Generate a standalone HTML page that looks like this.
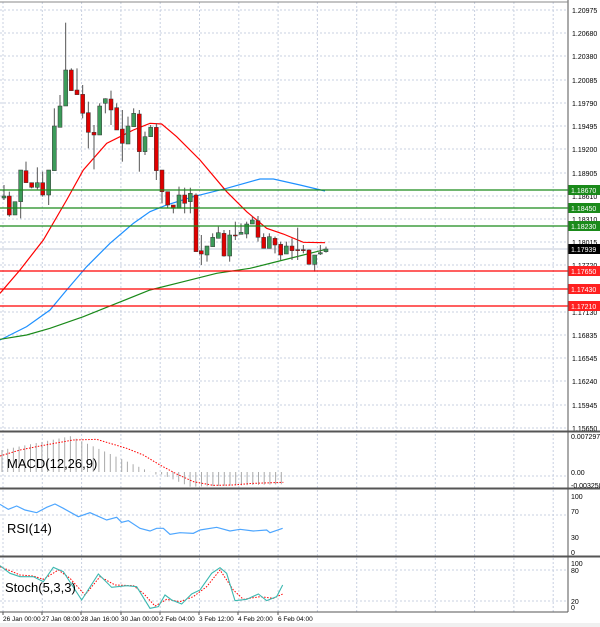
<!DOCTYPE html><html><head><style>body{margin:0;background:#fff}svg{display:block;font-family:"Liberation Sans",sans-serif}</style></head><body>
<svg id="s" width="600" height="627" xmlns="http://www.w3.org/2000/svg"></svg>
<script>
const s=document.getElementById('s');let h='';
h+='<rect width="600" height="627" fill="#fff"/>';
// vertical grid
for(let x=3;x<568;x+=39.3){h+=`<line x1="${x}" y1="2" x2="${x}" y2="612" stroke="#c8d0e0" stroke-dasharray="2,2"/>`}
// horizontal grid main
const pl=[[10,'1.20975'],[33,'1.20680'],[56,'1.20380'],[80,'1.20085'],[103,'1.19790'],[126,'1.19495'],[149,'1.19200'],[173,'1.18905'],[196,'1.18610'],[219,'1.18310'],[242,'1.18015'],[265,'1.17720'],[312,'1.17130'],[335,'1.16835'],[358,'1.16545'],[381,'1.16240'],[405,'1.15945'],[428,'1.15650']];
pl.forEach(([y,t])=>{h+=`<line x1="0" y1="${y}" x2="568" y2="${y}" stroke="#c8d0e0" stroke-dasharray="2,2"/><text x="572" y="${y+3}" font-size="7">${t}</text>`});
[476,515,570,601].forEach(y=>h+=`<line x1="0" y1="${y}" x2="568" y2="${y}" stroke="#c8d0e0" stroke-dasharray="2,2"/>`);
h+='<line x1="0" y1="249" x2="568" y2="249" stroke="#c0c8d8"/>';
// MAs (3x coords)
const P=a=>a.map(p=>(p[0]/3)+','+(p[1]/3)).join(' ');
h+=`<polyline fill="none" stroke="#1e90ff" stroke-width="1.2" points="${P([[0,1020],[80,980],[150,930],[200,870],[260,800],[330,730],[400,670],[450,635],[500,615],[580,590],[680,565],[780,537],[820,537],[900,555],[975,573]])}"/>`;
h+=`<polyline fill="none" stroke="#1a8a1a" stroke-width="1.2" points="${P([[0,1018],[80,1005],[150,985],[250,950],[350,910],[450,870],[550,845],[650,820],[750,805],[850,780],[930,760],[978,748]])}"/>`;
h+=`<polyline fill="none" stroke="#f00" stroke-width="1.2" points="${P([[0,880],[60,810],[130,720],[200,600],[250,510],[320,430],[400,390],[450,370],[485,372],[530,410],[600,480],[680,575],[740,635],[800,685],[850,702],[910,727],[975,728]])}"/>`;
// candles x,o,c,hi,lo (3x)
const C=[[12,594,588,555,600],[28,588,645,575,650],[45,645,605,605,645],[62,605,510,510,655],[78,512,548,485,548],[95,548,562,548,565],[112,562,548,502,568],[128,548,585,515,590],[146,585,510,510,615],[163,512,378,325,512],[180,382,318,285,382],[197,318,210,68,318],[214,210,272,205,272],[231,270,284,205,284],[248,283,340,255,355],[265,338,397,305,445],[282,397,405,375,508],[299,405,318,310,405],[316,310,296,295,340],[333,297,330,272,375],[350,323,390,310,390],[367,387,430,330,485],[384,432,378,350,432],[401,380,340,325,380],[418,342,455,330,515],[435,455,410,395,465],[452,410,382,375,410],[469,382,512,370,540],[486,510,575,510,610],[503,575,615,575,625],[520,615,625,615,640],[537,625,585,560,625],[554,585,610,563,640],[571,605,580,563,640],[588,585,755,580,755],[604,752,762,705,795],[621,765,738,738,785],[638,740,712,700,740],[655,715,698,680,715],[672,700,768,690,770],[689,768,705,690,785],[706,705,707,665,720],[723,703,697,670,703],[740,702,672,665,715],[757,672,660,650,672],[774,662,712,648,725],[791,712,745,700,745],[808,745,710,700,745],[825,715,735,710,760],[842,733,765,725,780],[859,762,738,725,762],[876,738,752,715,780],[893,749,752,683,780],[910,749,752,735,760],[927,750,793,748,793],[944,793,765,765,815],[961,762,758,735,765],[978,755,747,740,758]];
C.forEach(([x,o,c,hi,lo])=>{x/=3;o/=3;c/=3;hi/=3;lo/=3;const t=Math.min(o,c),b=Math.max(o,c);
h+=`<line x1="${x}" y1="${hi}" x2="${x}" y2="${lo}" stroke="#555"/>`;
h+=`<rect x="${x-2}" y="${t}" width="4" height="${Math.max(b-t,1)}" fill="${c<o?'#3c9b5a':'#e00000'}" stroke="#333" stroke-width="0.5"/>`});
// level lines
[[190,'#1a8a1a','1.18670'],[208,'#1a8a1a','1.18450'],[226,'#1a8a1a','1.18230'],[249,'#000','1.17939'],[271,'#f00','1.17650'],[289,'#f00','1.17430'],[306,'#f00','1.17210']].forEach(([y,c,t])=>{
if(c!='#000')h+=`<line x1="0" y1="${y}" x2="568" y2="${y}" stroke="${c}" stroke-width="1.3"/>`;
h+=`<rect x="568" y="${y-5}" width="32" height="10" fill="${c=='#f00'?'#ff2020':c}"/><text x="571" y="${y+3}" font-size="7" fill="#fff">${t}</text>`});
// panel borders
h+='<line x1="568" y1="0" x2="568" y2="612" stroke="#555"/><line x1="0" y1="2" x2="568" y2="2" stroke="#888"/>';
[431,432,488,489,556,557].forEach(y=>h+=`<line x1="0" y1="${y}" x2="600" y2="${y}" stroke="#555"/>`);
h+='<line x1="0" y1="612" x2="568" y2="612" stroke="#555"/>';
// MACD
const z=472;let hist=[],sig=[];
for(let i=0;i<50;i++){const x=2+i*5.7;let v;
if(i<13)v=0.0045+0.0028*i/12;else if(i<28)v=0.0073*(1-(i-13)/14)-0.0005;else if(i<33)v=-0.0005-0.0025*(i-28)/5;else v=-0.003+0.0005*(i-33)/16;
hist.push(x);const y=z-v*4900;h+=`<line x1="${x}" y1="${z}" x2="${x}" y2="${y}" stroke="#aaa"/>`}
h+=`<polyline fill="none" stroke="#f00" stroke-dasharray="1.5,1.5" points="${P([[0,108],[60,90],[120,78],[180,67],[220,60],[290,58],[330,70],[380,85],[430,105],[480,135],[530,162],[580,185],[640,196],[700,195],[760,190],[850,187]].map(p=>[p[0],p[1]+1260]))}"/>`;
h+='<text x="7" y="468" font-size="13">MACD(12,26,9)</text>';
[[436,'0.007297'],[472,'0.00'],[485,'-0.003258']].forEach(([y,t])=>h+=`<text x="571" y="${y+3}" font-size="7">${t}</text>`);
// RSI
h+=`<polyline fill="none" stroke="#4da6ff" stroke-width="1.2" points="${P([[0,253],[25,268],[50,258],[75,270],[110,278],[140,262],[165,252],[190,265],[235,290],[270,278],[320,300],[350,292],[365,307],[385,302],[420,325],[450,333],[470,325],[490,325],[510,343],[540,338],[580,340],[600,330],[650,322],[690,333],[720,328],[760,333],[800,330],[810,338],[848,325]].map(p=>[p[0],p[1]+1260]))}"/>`;
h+='<text x="7" y="533" font-size="13">RSI(14)</text>';
[[496,'100'],[476,''],[511,'70'],[537,'30'],[552,'0']].forEach(([y,t])=>h+=`<text x="571" y="${y+3}" font-size="7">${t}</text>`);
// Stoch
h+=`<polyline fill="none" stroke="#f00" stroke-dasharray="1.5,1.5" points="${P([[0,440],[30,452],[60,465],[100,468],[130,478],[175,450],[210,475],[255,525],[300,470],[345,495],[400,497],[430,520],[465,558],[500,538],[540,545],[580,530],[620,500],[660,450],[700,510],[730,538],[780,530],[820,535],[848,522]].map(p=>[p[0],p[1]+1260]))}"/>`;
h+=`<polyline fill="none" stroke="#3cb8b0" stroke-width="1.1" points="${P([[0,437],[30,460],[60,470],[100,470],[130,485],[160,442],[190,455],[245,540],[295,462],[335,502],[380,497],[410,500],[450,565],[475,560],[495,525],[515,540],[545,552],[575,522],[600,510],[635,460],[660,443],[680,460],[705,542],[740,538],[775,522],[800,542],[830,530],[848,495]].map(p=>[p[0],p[1]+1260]))}"/>`;
h+='<text x="5" y="592" font-size="13">Stoch(5,3,3)</text>';
[[563,'100'],[570,'80'],[601,'20'],[607,'0']].forEach(([y,t])=>h+=`<text x="571" y="${y+3}" font-size="7">${t}</text>`);
// time axis
[[3,'26 Jan 00:00'],[42,'27 Jan 08:00'],[81,'28 Jan 16:00'],[121,'30 Jan 00:00'],[160,'2 Feb 04:00'],[199,'3 Feb 12:00'],[238,'4 Feb 20:00'],[278,'6 Feb 04:00']].forEach(([x,t])=>h+=`<line x1="${x}" y1="612" x2="${x}" y2="615" stroke="#555"/><text x="${x}" y="621" font-size="6.5">${t}</text>`);
h+='<rect x="0" y="623" width="600" height="4" fill="#f0f0f0"/>';
s.innerHTML=h;
</script></body></html>
